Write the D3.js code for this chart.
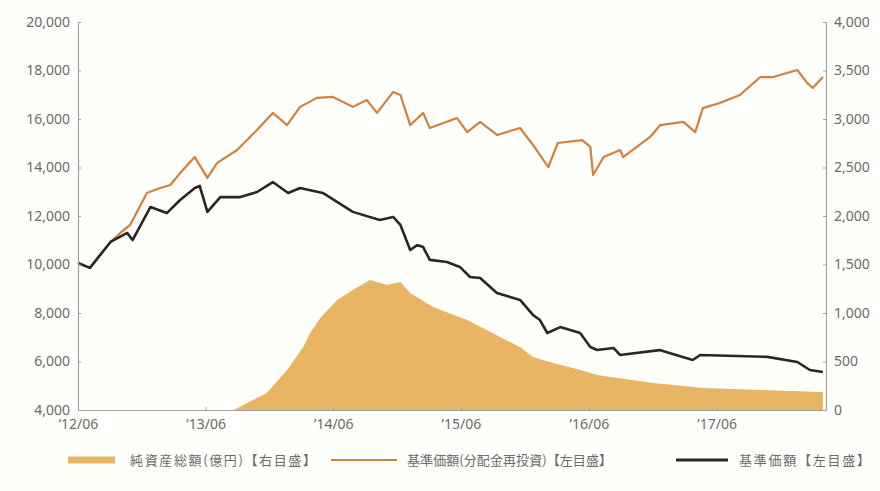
<!DOCTYPE html>
<html>
<head>
<meta charset="utf-8">
<script src="https://cdnjs.cloudflare.com/ajax/libs/d3/7.8.5/d3.min.js"></script>
<style>
  body { margin: 0; background: #fffffb; }
  text { font-family: "Noto Sans CJK JP", "Noto Sans", sans-serif; fill: #6a6a6a; }
</style>
</head>
<body>
<div id="chart"></div>
<script>
// data
var navDates = ["2012-06-01","2012-07-05","2012-09-02","2012-10-20","2012-11-04","2012-12-25","2013-02-10","2013-03-20","2013-05-01","2013-05-15","2013-06-06","2013-07-13","2013-09-08","2013-10-26","2013-12-10","2014-01-23","2014-02-26","2014-05-02","2014-07-27","2014-10-12","2014-11-19","2014-12-10","2015-01-07","2015-01-27","2015-02-13","2015-03-04","2015-04-22","2015-05-29","2015-06-27","2015-07-26","2015-09-12","2015-11-17","2015-12-24","2016-01-13","2016-02-03","2016-03-11","2016-05-07","2016-06-05","2016-06-25","2016-08-10","2016-08-29","2016-12-20","2017-03-25","2017-04-15","2017-10-24","2018-01-18","2018-02-23","2018-04-01"];
var navValues = [10060,9860,10930,11300,11010,12370,12120,12660,13155,13240,12170,12780,12780,12990,13400,12950,13155,12950,12170,11836,11960,11630,10600,10800,10720,10190,10100,9900,9485,9440,8825,8540,7920,7710,7175,7420,7175,6600,6475,6560,6270,6470,6060,6270,6190,5980,5650,5570];

var reinvDates = ["2012-06-01","2012-07-05","2012-09-02","2012-09-30","2012-10-28","2012-12-15","2013-01-22","2013-02-20","2013-03-20","2013-05-01","2013-06-06","2013-07-04","2013-08-30","2013-10-26","2013-12-10","2014-01-20","2014-02-26","2014-04-15","2014-05-31","2014-07-27","2014-09-05","2014-10-04","2014-11-19","2014-12-10","2015-01-07","2015-02-13","2015-03-04","2015-05-21","2015-06-19","2015-07-26","2015-09-13","2015-11-17","2015-12-24","2016-02-06","2016-03-04","2016-05-13","2016-06-05","2016-06-13","2016-07-13","2016-08-29","2016-09-07","2016-11-23","2016-12-22","2017-02-26","2017-04-01","2017-04-23","2017-06-10","2017-08-07","2017-10-04","2017-11-10","2018-01-18","2018-02-15","2018-03-03","2018-04-01"];
var reinvValues = [10060,9860,10930,11300,11630,12950,13155,13280,13770,14430,13570,14190,14720,15550,16250,15750,16500,16870,16910,16500,16780,16250,17110,16990,15750,16250,15630,16040,15460,15880,15340,15630,14930,14020,15010,15130,14850,13690,14430,14720,14430,15260,15750,15880,15460,16450,16660,16990,17730,17730,18020,17490,17280,17730];

var assetDates = ["2012-06-01","2013-08-20","2013-11-23","2014-01-20","2014-03-07","2014-03-27","2014-04-25","2014-06-12","2014-07-27","2014-09-14","2014-11-02","2014-12-10","2015-01-07","2015-03-13","2015-06-19","2015-09-21","2015-11-17","2015-12-24","2016-02-20","2016-05-08","2016-06-24","2016-12-02","2017-04-23","2018-03-25","2018-04-01"];
var assetValues = [0,0,175,412,650,794,949,1134,1237,1340,1289,1320,1206,1062,928,753,650,546,485,412,361,278,227,186,185];

var xTickDates = ["2012-06-01","2013-06-01","2014-06-01","2015-06-01","2016-06-01","2017-06-01"];
var xTickLabels = ["’12/06","’13/06","’14/06","’15/06","’16/06","’17/06"];
var leftTicks = [4000,6000,8000,10000,12000,14000,16000,18000,20000];
var rightTicks = [0,500,1000,1500,2000,2500,3000,3500,4000];

var legendLabels = ["純資産総額(億円)【右目盛】","基準価額(分配金再投資)【左目盛】","基準価額【左目盛】"];

var svgWidth = 880;
var svgHeight = 491;
var margin = { top: 22, right: 54, bottom: 81, left: 78 };
var width = svgWidth - margin.left - margin.right;
var height = svgHeight - margin.top - margin.bottom;

var parse = d3.timeParse("%Y-%m-%d");

var svg = d3.select("#chart")
  .append("svg")
  .attr("width", svgWidth)
  .attr("height", svgHeight);

var chartGroup = svg.append("g")
  .attr("transform", `translate(${margin.left}, ${margin.top})`);

// scales
var xScale = d3.scaleTime()
  .domain([parse("2012-06-01"), parse("2018-04-10")])
  .range([0, width]);

var yLeft = d3.scaleLinear().domain([4000, 20000]).range([height, 0]);
var yRight = d3.scaleLinear().domain([0, 4000]).range([height, 0]);

var navData = navDates.map((d, i) => ({ date: parse(d), value: navValues[i] }));
var reinvData = reinvDates.map((d, i) => ({ date: parse(d), value: reinvValues[i] }));
var assetData = assetDates.map((d, i) => ({ date: parse(d), value: assetValues[i] }));

// area for net assets (right axis)
var area = d3.area()
  .x(d => xScale(d.date))
  .y0(height)
  .y1(d => yRight(d.value));

chartGroup.append("path")
  .datum(assetData)
  .attr("d", area)
  .attr("fill", "#e7b564");

var line = d3.line()
  .x(d => xScale(d.date))
  .y(d => yLeft(d.value));

chartGroup.append("path")
  .datum(reinvData)
  .attr("d", line)
  .attr("fill", "none")
  .attr("stroke", "#d2813c")
  .attr("stroke-width", 2.2)
  .attr("stroke-linejoin", "round");

chartGroup.append("path")
  .datum(navData)
  .attr("d", line)
  .attr("fill", "none")
  .attr("stroke", "#2d2522")
  .attr("stroke-width", 2.6)
  .attr("stroke-linejoin", "round");

// axes
var bottomAxis = d3.axisBottom(xScale)
  .tickValues(xTickDates.map(parse))
  .tickFormat((d, i) => xTickLabels[i])
  .tickSizeInner(-3)
  .tickSizeOuter(0)
  .tickPadding(9);

var leftAxis = d3.axisLeft(yLeft)
  .tickValues(leftTicks)
  .tickFormat(d3.format(","))
  .tickSizeInner(-3)
  .tickSizeOuter(0)
  .tickPadding(8);

var rightAxis = d3.axisRight(yRight)
  .tickValues(rightTicks)
  .tickFormat(d3.format(","))
  .tickSizeInner(-3)
  .tickSizeOuter(0)
  .tickPadding(8);

var xAxis = chartGroup.append("g")
  .attr("transform", `translate(0, ${height})`)
  .call(bottomAxis);

var lAxis = chartGroup.append("g").call(leftAxis);
var rAxis = chartGroup.append("g")
  .attr("transform", `translate(${width}, 0)`)
  .call(rightAxis);

[xAxis, lAxis, rAxis].forEach(function (g) {
  g.select(".domain").attr("stroke", "#a0a0a0").attr("stroke-width", 1.2);
  g.selectAll(".tick line").attr("stroke", "#a0a0a0");
  g.selectAll("text")
    .attr("font-size", 14)
    .attr("fill", "#6a6a6a")
    .style("font-family", "'Noto Sans', sans-serif");
});

// legend
var legend = svg.append("g").attr("transform", "translate(0, 460)");

legend.append("rect")
  .attr("x", 68).attr("y", -3.5)
  .attr("width", 47).attr("height", 7)
  .attr("fill", "#e7b564");
legend.append("text")
  .attr("x", 130).attr("y", 0).attr("dy", "0.35em")
  .attr("font-size", 13)
  .attr("textLength", 186)
  .text(legendLabels[0]);

legend.append("line")
  .attr("x1", 331).attr("x2", 397)
  .attr("stroke", "#d2813c").attr("stroke-width", 2.2);
legend.append("text")
  .attr("x", 407).attr("y", 0).attr("dy", "0.35em")
  .attr("font-size", 13)
  .attr("textLength", 205)
  .text(legendLabels[1]);

legend.append("line")
  .attr("x1", 676).attr("x2", 728)
  .attr("stroke", "#2d2522").attr("stroke-width", 2.8);
legend.append("text")
  .attr("x", 739).attr("y", 0).attr("dy", "0.35em")
  .attr("font-size", 13)
  .attr("textLength", 131)
  .text(legendLabels[2]);
</script>
</body>
</html>
